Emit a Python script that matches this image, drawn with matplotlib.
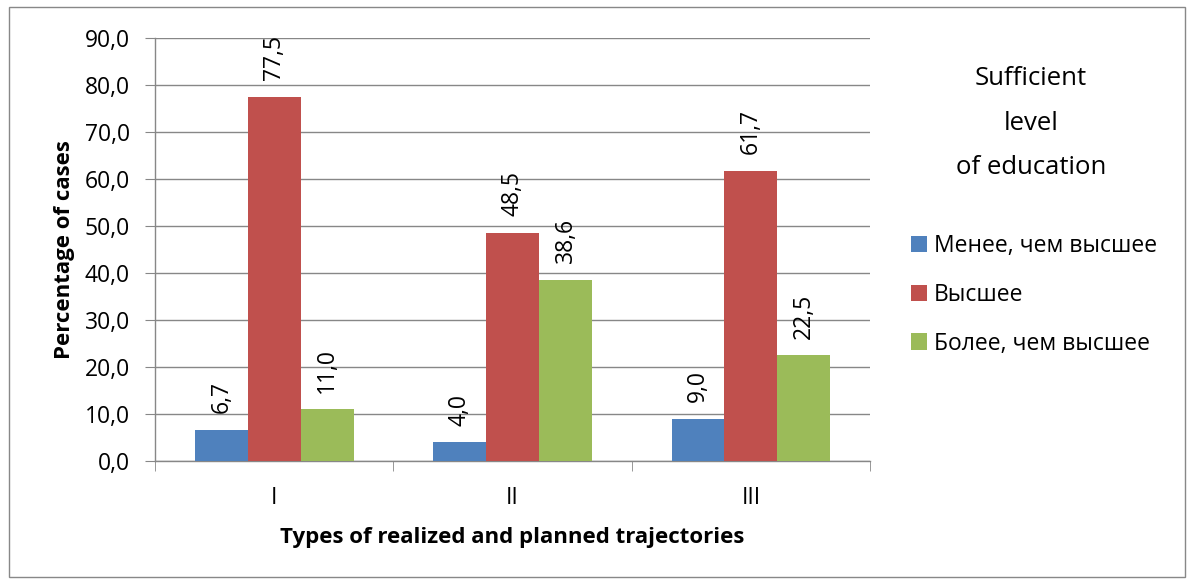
import numpy as np
import matplotlib.pyplot as plt
from matplotlib.patches import Rectangle

plt.rcParams['font.family'] = ['Open Sans', 'DejaVu Sans']

categories = ["I", "II", "III"]
series_names = ["Менее, чем высшее", "Высшее", "Более, чем высшее"]
less_than_higher = [6.7, 4.0, 9.0]
higher = [77.5, 48.5, 61.7]
more_than_higher = [11.0, 38.6, 22.5]
colors = ["#4F81BD", "#C0504D", "#9BBB59"]

fig = plt.figure(figsize=(11.87, 5.79), dpi=100)
ax = fig.add_axes([0.1306, 0.2038, 0.6024, 0.7306])

# chart border
fig.patches.append(Rectangle((9 / 1187, 2 / 579), 1176 / 1187, 570 / 579,
                             transform=fig.transFigure, fill=False,
                             edgecolor="#888888", linewidth=1.0))

x = np.arange(len(categories))
w = 0.222
for i, (vals, name) in enumerate(zip([less_than_higher, higher, more_than_higher], series_names)):
    bars = ax.bar(x + (i - 1) * w, vals, width=w, color=colors[i], label=name, zorder=3)
    ax.bar_label(bars, labels=[f"{v:.1f}".replace(".", ",") for v in vals],
                 rotation=90, padding=12, fontsize=16.5)

ax.set_xlim(-0.5, 2.5)
ax.set_ylim(0, 90)
ax.set_yticks(np.arange(0, 91, 10))
ax.set_yticklabels([f"{v:.1f}".replace(".", ",") for v in np.arange(0, 91, 10)], fontsize=16.5)
ax.set_xticks(x)
ax.set_xticklabels(categories, fontsize=16.5)
ax.set_xticks([-0.5, 0.5, 1.5, 2.5], minor=True)
ax.tick_params(axis="x", which="major", length=0, pad=18)
ax.tick_params(axis="x", which="minor", length=7, color="#878787")
ax.tick_params(axis="y", length=7, color="#878787", pad=11)
ax.grid(axis="y", color="#878787", linewidth=1, zorder=0)
for s in ["top", "right"]:
    ax.spines[s].set_visible(False)
for s in ["left", "bottom"]:
    ax.spines[s].set_color("#878787")
    ax.spines[s].set_linewidth(1)

ax.set_ylabel("Percentage of cases", fontsize=16, fontweight="bold", labelpad=7)
ax.set_xlabel("Types of realized and planned trajectories", fontsize=16,
              fontweight="bold", labelpad=12)

fig.text(1031 / 1187, 1 - 123 / 579, "Sufficient\nlevel\nof education",
         ha="center", va="center", fontsize=18.5, linespacing=2.05)
fig.legend(loc="center left", bbox_to_anchor=(890 / 1187, 1 - 295 / 579),
           frameon=False, fontsize=16.5, handlelength=0.7, handleheight=0.7,
           handletextpad=0.3, labelspacing=1.07)

fig.savefig("out.png", dpi=100)
